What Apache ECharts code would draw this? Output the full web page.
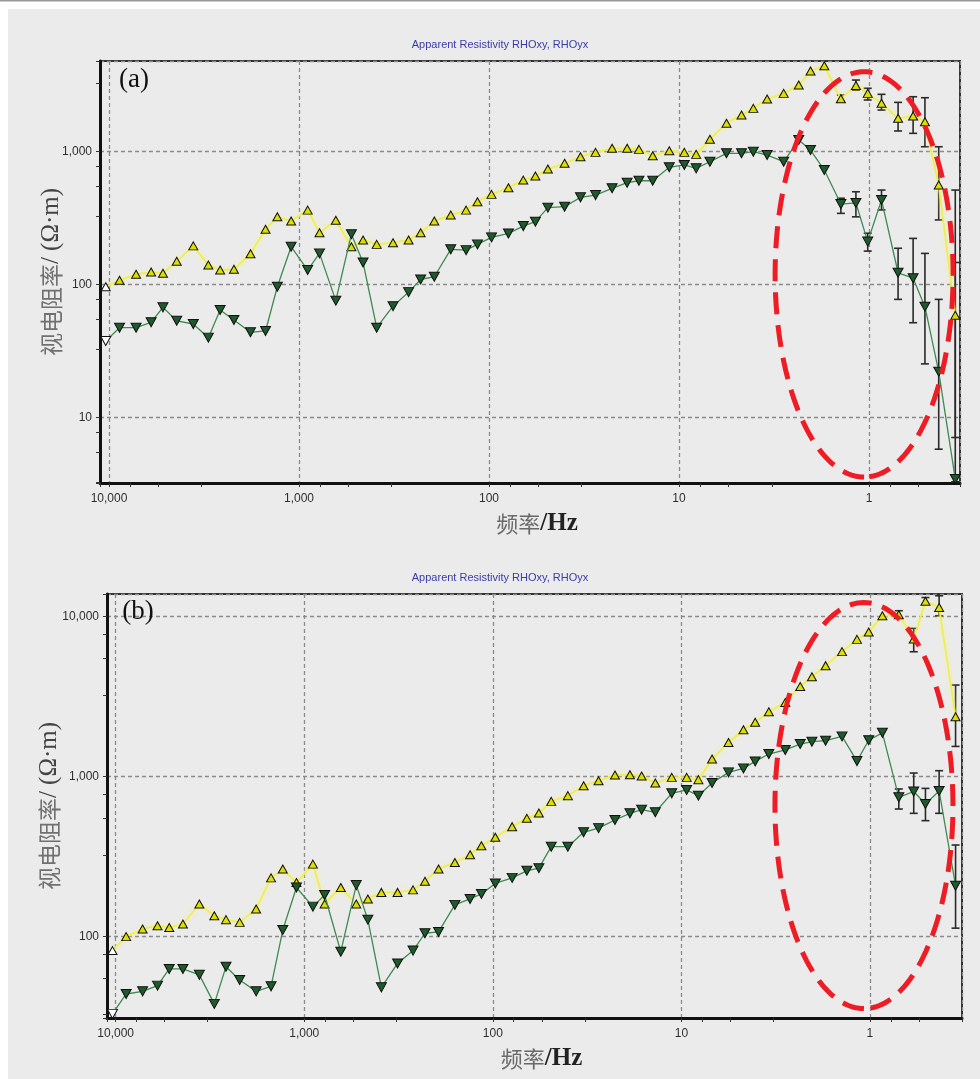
<!DOCTYPE html>
<html>
<head>
<meta charset="utf-8">
<script src="https://cdn.jsdelivr.net/npm/echarts@6/dist/echarts.min.js"></script>
<style>
    html, body { margin: 0; padding: 0; background: #fff; }
    #chart { width: 980px; height: 1079px; }
</style>
</head>
<body>
<div id="chart"></div>
<script>
// frequency table (Hz), same for both soundings
const freqs = [10400, 8800, 7200, 6000, 5200, 4400, 3600, 3000, 2600, 2200, 1800, 1500, 1300, 1100, 900, 780,
    640, 530, 460, 390, 320, 265, 229, 194, 159, 132, 115, 97, 79, 66, 57, 49, 40, 33, 27.5, 22.5, 18.75,
    16.25, 13.75, 11.25, 9.375, 8.125, 6.875, 5.625, 4.6875, 4.0625, 3.4375, 2.8125, 2.34375, 2.03125,
    1.71875, 1.40625, 1.171875, 1.015625, 0.859375, 0.703125, 0.5859375, 0.5078125, 0.4296875, 0.3515625]

// (a) apparent resistivity
const rhoxyA = [96.6, 108, 120, 124.6, 122, 150, 196, 140.6, 129, 130.6, 171, 261, 324, 301, 364, 246,
    305, 193, 217, 201, 207, 217, 246, 301, 334, 364, 421, 478, 536, 612, 656, 741, 818, 917, 989, 1061,
    1061, 1042, 933, 1017, 989, 955, 1240, 1635, 1888, 2119, 2489, 2746, 3174, 4045, 4434, 2500, 3150,
    2746, 2312, 1783, 1854, 1681, 562, 59]
const rhoyxA = [37.8, 47.5, 47.5, 52.2, 67.6, 53.6, 50.6, 40, 64.5, 54.3, 43.9, 44.9, 96.6, 193, 129, 172,
    75.9, 240, 147, 47.5, 69, 88, 109.6, 114.8, 184.6, 182, 201, 227, 243, 276, 298, 380, 386, 454, 472,
    531, 585, 605, 605, 764, 795, 750, 841, 973, 973, 1000, 944, 841, 1224, 1030, 728, 404, 412, 211,
    434, 123, 112, 68.4, 22.2, 3.46]

// (b) apparent resistivity
const rhoxyB = [81.8, 100, 111.7, 117, 114, 120, 160, 135, 127.7, 122.8, 149, 233, 265, 218, 284, 160,
    203, 160, 172, 189, 189, 196, 222, 265, 291, 325, 370, 418, 487, 549, 593, 701, 761, 878, 944, 1024,
    1029, 1010, 913, 990, 990, 958, 1290, 1637, 1966, 2187, 2548, 2912, 3664, 4217, 4943, 6050, 7220,
    8020, 10140, 10290, 7260, 12500, 11430, 2370]
const rhoyxB = [32.9, 43.8, 45.5, 49.4, 62.8, 62.8, 57.7, 38, 64.9, 53.6, 45.5, 48.9, 110, 203, 154, 182,
    80.5, 210, 127.7, 48.2, 68, 81.8, 105, 107, 158, 172, 185, 215, 233, 258, 268, 365, 365, 449, 477,
    536, 590, 622, 599, 787, 826, 761, 913, 1064, 1127, 1246, 1386, 1469, 1600, 1654, 1679, 1786, 1252,
    1690, 1880, 743, 808, 675, 814, 208]

// error bars (index into freqs, low, high)
const errIdxA = [51, 52, 53, 54, 55, 56, 57, 58, 59]
const errXyALow = [2376, 2912, 2449, 2058, 1432, 1375, 1090, 307, 7.1]
const errXyAHigh = [2667, 3459, 2999, 2702, 2350, 2591, 2547, 1090, 147]
const errYxALow = [344, 324, 179, 365, 77.6, 51.8, 25.4, 5.8, 3.3]
const errYxAHigh = [447, 500, 244, 515, 188, 223, 172, 77.6, 515]

const errIdxB = [55, 56, 57, 58, 59]
const errXyBLow = [9820, 6040, 11990, 10140, 1546]
const errXyBHigh = [10900, 8450, 13180, 13520, 3740]
const errYxBLow = [628, 590, 531, 590, 113]
const errYxBHigh = [838, 1054, 845, 1090, 374]

// red dashed ellipse annotation: [freq left, freq right, rho top, rho bottom]
const ellipseA = [3.12, 0.361, 3995, 3.58]
const ellipseB = [3.19, 0.363, 12270, 35.5]

// axis ranges
const freqRangeA = [0.332, 11150]
const freqRangeB = [0.325, 11120]
const rhoRangeA = [3.23, 4810]
const rhoRangeB = [31, 13870]

const chart = echarts.init(document.getElementById('chart'))

const withComma = v => String(Math.round(v)).replace(/\B(?=(\d{3})+(?!\d))/g, ',')
const decadeLabel = v => {
    const l = Math.log10(v)
    return Math.abs(l - Math.round(l)) < 1e-6 ? withComma(v) : ''
}

const gridLine = { show: true, lineStyle: { color: '#8a8a8a', width: 1.3, type: [4, 3] } }
const labelStyle = { fontFamily: 'Liberation Sans', fontSize: 12, color: '#2e2e2e', formatter: decadeLabel }

const makeX = (gi, range) => ({
    type: 'log', logBase: 10, gridIndex: gi, inverse: true,
    min: range[0], max: range[1],
    axisLine: { show: true, onZero: false, lineStyle: { color: '#111', width: 3 } },
    axisTick: { show: true, length: 4, lineStyle: { color: '#333' } },
    minorTick: { show: true, splitNumber: 4, length: 4, lineStyle: { color: '#333' } },
    axisLabel: { ...labelStyle, margin: 10, showMinLabel: true, showMaxLabel: true },
    splitLine: gridLine,
    name: '{a|频率}{b|/Hz}',
    nameLocation: 'middle',
    nameMoveOverlap: false,
    nameGap: 28,
    nameTextStyle: {
        rich: {
            a: { fontFamily: 'Noto Sans CJK SC', fontSize: 22, color: '#6a6a6a', padding: [0, 0, 0, 14] },
            b: { fontFamily: 'Liberation Serif', fontSize: 25, fontWeight: 'bold', color: '#222' }
        }
    }
})

const makeY = (gi, range, gap) => ({
    type: 'log', logBase: 10, gridIndex: gi,
    min: range[0], max: range[1],
    axisLine: { show: true, onZero: false, lineStyle: { color: '#111', width: 3 } },
    axisTick: { show: true, length: 4, lineStyle: { color: '#333' } },
    minorTick: { show: true, splitNumber: 4, length: 4, lineStyle: { color: '#333' } },
    axisLabel: { ...labelStyle, margin: 8 },
    splitLine: gridLine,
    name: '{a|视电阻率}{b|/ (Ω·m)}',
    nameLocation: 'middle',
    nameRotate: 90,
    nameMoveOverlap: false,
    nameGap: gap,
    nameTextStyle: {
        rich: {
            a: { fontFamily: 'Noto Sans CJK SC', fontSize: 23, color: '#707070' },
            b: { fontFamily: 'Liberation Serif', fontSize: 25, color: '#444' }
        }
    }
})

const lineSeries = (name, values, gi, yellow) => ({
    name,
    type: 'line',
    xAxisIndex: gi,
    yAxisIndex: gi,
    data: freqs.map((f, i) => i === 0
        ? { value: [f, values[i]], itemStyle: { color: '#fff' } }
        : [f, values[i]]),
    symbol: 'triangle',
    symbolSize: yellow ? [9, 8] : [10, 9],
    symbolRotate: yellow ? 0 : 180,
    showAllSymbol: true,
    lineStyle: yellow
        ? { color: '#eeee55', width: 1.8, shadowColor: 'rgba(245,245,140,0.9)', shadowBlur: 4 }
        : { color: '#3f8a4f', width: 1.3 },
    itemStyle: { color: yellow ? '#dede00' : '#1e5a2b', borderColor: '#111', borderWidth: 1 },
    z: yellow ? 3 : 4,
    animation: false
})

const errSeries = (idx, low, high, gi) => ({
    type: 'custom',
    xAxisIndex: gi,
    yAxisIndex: gi,
    data: idx.map((k, j) => [freqs[k], low[j], high[j]]),
    encode: { x: 0, y: [1, 2] },
    clip: true,
    z: 2,
    renderItem: (params, api) => {
        const f = api.value(0)
        const a = api.coord([f, api.value(1)])
        const b = api.coord([f, api.value(2)])
        const w = 4
        const st = { stroke: '#2a2a2a', lineWidth: 1.6 }
        return {
            type: 'group',
            children: [
                { type: 'line', shape: { x1: a[0], y1: a[1], x2: b[0], y2: b[1] }, style: st },
                { type: 'line', shape: { x1: a[0] - w, y1: a[1], x2: a[0] + w, y2: a[1] }, style: st },
                { type: 'line', shape: { x1: b[0] - w, y1: b[1], x2: b[0] + w, y2: b[1] }, style: st }
            ]
        }
    },
    animation: false
})

const ellipseSeries = (box, gi) => ({
    type: 'custom',
    xAxisIndex: gi,
    yAxisIndex: gi,
    data: [box],
    encode: { x: [0, 1], y: [2, 3] },
    z: 10,
    renderItem: (params, api) => {
        const p1 = api.coord([api.value(0), api.value(2)])
        const p2 = api.coord([api.value(1), api.value(3)])
        const cx = (p1[0] + p2[0]) / 2
        const cy = (p1[1] + p2[1]) / 2
        const rx = Math.abs(p2[0] - p1[0]) / 2
        const ry = Math.abs(p2[1] - p1[1]) / 2
        const pts = []
        for (let k = 0; k <= 180; k++) {
            const t = Math.PI / 2 + k / 180 * Math.PI * 2
            pts.push([cx + rx * Math.cos(t), cy + ry * Math.sin(t)])
        }
        return {
            type: 'polyline',
            shape: { points: pts },
            style: { stroke: '#ee1c24', lineWidth: 5, lineDash: [22, 11], fill: null }
        }
    },
    animation: false
})

const textEl = (x, y, text, font, fill) => ({
    type: 'text', x, y, silent: true, z: 20,
    style: { text, font, fill, align: 'center', verticalAlign: 'middle' }
})

const option = {
    backgroundColor: '#fff',
    animation: false,
    graphic: [
        { type: 'rect', shape: { x: 0, y: 0, width: 980, height: 1.5 }, style: { fill: '#999' }, z: -10, silent: true },
        { type: 'rect', shape: { x: 8, y: 9, width: 972, height: 1070 }, style: { fill: '#ebebeb' }, z: -10, silent: true },
        textEl(500, 45, 'Apparent Resistivity RHOxy, RHOyx', '11px "Liberation Sans"', '#3b3ba8'),
        textEl(500, 578, 'Apparent Resistivity RHOxy, RHOyx', '11px "Liberation Sans"', '#3b3ba8'),
        textEl(134, 80, '(a)', '27px "Liberation Serif"', '#111'),
        textEl(138, 612, '(b)', '27px "Liberation Serif"', '#111')
    ],
    grid: [
        { left: 100, top: 61, width: 860, height: 422, show: true, borderColor: '#333', borderWidth: 2, backgroundColor: 'transparent' },
        { left: 107, top: 594, width: 855, height: 424, show: true, borderColor: '#333', borderWidth: 2, backgroundColor: 'transparent' }
    ],
    xAxis: [makeX(0, freqRangeA), makeX(1, freqRangeB)],
    yAxis: [makeY(0, rhoRangeA, 36), makeY(1, rhoRangeB, 45)],
    series: [
        errSeries(errIdxA, errXyALow, errXyAHigh, 0),
        errSeries(errIdxA, errYxALow, errYxAHigh, 0),
        lineSeries('RHOxy', rhoxyA, 0, true),
        lineSeries('RHOyx', rhoyxA, 0, false),
        ellipseSeries(ellipseA, 0),
        errSeries(errIdxB, errXyBLow, errXyBHigh, 1),
        errSeries(errIdxB, errYxBLow, errYxBHigh, 1),
        lineSeries('RHOxy', rhoxyB, 1, true),
        lineSeries('RHOyx', rhoyxB, 1, false),
        ellipseSeries(ellipseB, 1)
    ]
}

chart.setOption(option)
</script>
</body>
</html>
